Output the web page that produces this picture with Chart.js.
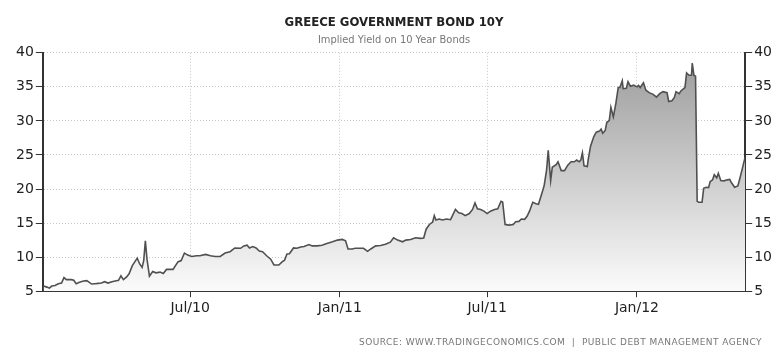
<!DOCTYPE html>
<html>
<head>
<meta charset="utf-8">
<script src="https://cdn.jsdelivr.net/npm/chart.js@4/dist/chart.umd.min.js"></script>
<style>
    body { margin: 0; background: #fff; }
    #wrap { position: relative; width: 782px; height: 354px; }
    #sumber {
        position: absolute; right: 20px; top: 337px;
        font: 9px "DejaVu Sans", sans-serif; letter-spacing: 0.45px; color: #777;
        white-space: nowrap;
    }
</style>
</head>
<body>
<div id="wrap">
    <canvas id="grafik" width="782" height="354"></canvas>
    <div id="sumber">SOURCE: WWW.TRADINGECONOMICS.COM &nbsp;|&nbsp; PUBLIC DEBT MANAGEMENT AGENCY</div>
</div>
<script>
// hari sejak 1 Jan 2010
const hari = [
    1, 5, 8, 11, 15, 19, 23, 26, 29, 35, 38, 41, 45, 50, 54, 60, 64, 68, 72, 76,
    80, 85, 89, 93, 96, 99, 103, 106, 110, 116, 119, 122, 124, 126, 128, 131, 135, 139, 144, 148,
    152, 160, 166, 170, 174, 178, 183, 189, 193, 200, 206, 212, 218, 224, 230, 236, 243, 247, 251, 254,
    258, 262, 266, 270, 275, 280, 284, 290, 294, 297, 300, 303, 308, 312, 317, 321, 327, 331, 337, 343,
    349, 356, 362, 368, 372, 375, 380, 384, 388, 394, 399, 403, 409, 415, 421, 427, 431, 436, 442, 446,
    452, 458, 464, 468, 471, 475, 479, 481, 483, 487, 491, 496, 501, 507, 511, 515, 519, 524, 528, 531,
    534, 538, 542, 546, 550, 555, 559, 563, 565, 568, 573, 578, 581, 585, 588, 592, 595, 598, 602, 606,
    609, 612, 616, 619, 621, 624, 626, 631, 633, 637, 641, 645, 649, 653, 656, 659, 661, 663, 665, 669,
    670, 673, 677, 680, 684, 686, 688, 691, 693, 696, 698, 701, 704, 707, 709, 712, 713, 717, 719, 722,
    726, 730, 732, 734, 738, 741, 745, 750, 754, 758, 762, 767, 769, 773, 776, 778, 782, 784, 789, 791,
    794, 797, 798, 800, 802, 804, 806, 810, 812, 815, 818, 820, 823, 825, 828, 830, 833, 837, 841, 844,
    846, 850, 854, 857, 860, 863
];

const imbalHasil = [
    5.75, 5.6, 5.45, 5.75, 5.85, 6.1, 6.2, 7.0, 6.7, 6.7, 6.6, 6.1, 6.3, 6.5, 6.55, 6.05, 6.1, 6.15, 6.2, 6.4,
    6.2, 6.4, 6.5, 6.6, 7.25, 6.7, 7.1, 7.55, 8.75, 9.85, 9.0, 8.5, 9.5, 12.4, 9.7, 7.2, 7.9, 7.7, 7.8, 7.6,
    8.2, 8.2, 9.3, 9.5, 10.6, 10.3, 10.1, 10.2, 10.2, 10.4, 10.2, 10.1, 10.1, 10.6, 10.8, 11.35, 11.3, 11.65, 11.75, 11.35,
    11.55, 11.35, 10.9, 10.8, 10.2, 9.7, 8.85, 8.85, 9.3, 9.55, 10.45, 10.5, 11.35, 11.3, 11.5, 11.55, 11.85, 11.65, 11.65, 11.75,
    12.0, 12.25, 12.5, 12.6, 12.4, 11.2, 11.2, 11.3, 11.3, 11.3, 10.85, 11.2, 11.65, 11.7, 11.9, 12.2, 12.85, 12.5, 12.25, 12.5,
    12.6, 12.85, 12.75, 12.8, 14.1, 14.8, 15.15, 16.1, 15.45, 15.6, 15.45, 15.6, 15.5, 17.0, 16.5, 16.4, 16.1, 16.4, 17.0, 17.95,
    17.1, 17.0, 16.75, 16.4, 16.75, 17.0, 17.1, 18.2, 18.1, 14.8, 14.7, 14.8, 15.2, 15.25, 15.6, 15.55, 16.0, 16.75, 18.05, 17.85,
    17.75, 18.9, 20.5, 22.8, 25.7, 21.25, 23.2, 23.6, 24.0, 22.7, 22.7, 23.5, 24.0, 24.0, 24.25, 24.0, 24.25, 25.3, 23.4, 23.3,
    24.25, 26.3, 27.7, 28.35, 28.5, 28.8, 28.2, 28.6, 29.8, 30.05, 32.0, 30.6, 32.5, 34.9, 34.9, 35.9, 34.75, 34.8, 35.75, 35.1,
    35.25, 35.0, 35.2, 34.9, 35.6, 34.5, 34.15, 33.9, 33.5, 34.0, 34.3, 34.15, 32.85, 32.95, 33.45, 34.3, 34.0, 34.4, 34.9, 37.05,
    36.7, 36.7, 38.5, 36.7, 36.55, 18.2, 18.05, 18.05, 20.1, 20.25, 20.2, 21.1, 21.35, 22.1, 21.65, 22.3, 21.25, 21.2, 21.35, 21.4,
    20.95, 20.25, 20.45, 21.8, 23.25, 24.7
];

const posisiLabelX = [181, 365, 546, 730];
const teksLabelX = ['Jul/10', 'Jan/11', 'Jul/11', 'Jan/12'];
const labelY = [5, 10, 15, 20, 25, 30, 35, 40];

const hurufSumbu = { family: 'DejaVu Sans', size: 14 };

const sumbuY = (posisi, gridTampil) => ({
    type: 'linear',
    position: posisi,
    min: 5,
    max: 40,
    afterBuildTicks: (skala) => { skala.ticks = labelY.map(v => ({ value: v })); },
    ticks: { color: '#222', font: hurufSumbu, padding: 2 },
    grid: {
        drawOnChartArea: gridTampil,
        color: '#c8c8c8',
        tickColor: '#333',
        tickLength: 7
    },
    border: { color: '#333', width: 2, dash: [1, 2] }
});

const ctx = document.getElementById('grafik').getContext('2d');

const grafik = new Chart(ctx, {
    type: 'line',
    data: {
        datasets: [{
            data: hari.map((h, i) => ({ x: h, y: imbalHasil[i] })),
            borderColor: '#505050',
            borderWidth: 1.6,
            pointRadius: 0,
            fill: 'start',
            backgroundColor: (c) => {
                const area = c.chart.chartArea;
                if (!area) return '#ccc';
                const g = c.chart.ctx.createLinearGradient(0, area.top, 0, area.bottom);
                g.addColorStop(0, '#9a9a9a');
                g.addColorStop(1, '#fbfbfb');
                return g;
            }
        }]
    },
    options: {
        responsive: false,
        animation: false,
        layout: { padding: { left: 14, right: 8, top: 0, bottom: 34 } },
        plugins: {
            legend: { display: false },
            tooltip: { enabled: false },
            title: {
                display: true,
                text: 'GREECE GOVERNMENT BOND 10Y',
                color: '#222',
                font: { family: 'DejaVu Sans Condensed', size: 13, weight: 'bold' },
                padding: { top: 15, bottom: 3 }
            },
            subtitle: {
                display: true,
                text: 'Implied Yield on 10 Year Bonds',
                color: '#777',
                font: { family: 'DejaVu Sans Condensed', size: 11 },
                padding: { top: 0, bottom: 6 }
            }
        },
        scales: {
            x: {
                type: 'linear',
                min: 0,
                max: 863,
                afterBuildTicks: (skala) => { skala.ticks = posisiLabelX.map(v => ({ value: v })); },
                ticks: {
                    color: '#222',
                    font: hurufSumbu,
                    padding: 3,
                    maxRotation: 0,
                    callback: (v) => teksLabelX[posisiLabelX.indexOf(v)]
                },
                grid: { color: '#c8c8c8', tickColor: '#333', tickLength: 6 },
                border: { color: '#333', width: 2, dash: [1, 2] }
            },
            y: sumbuY('left', true),
            y2: sumbuY('right', false)
        }
    }
});
</script>
</body>
</html>
